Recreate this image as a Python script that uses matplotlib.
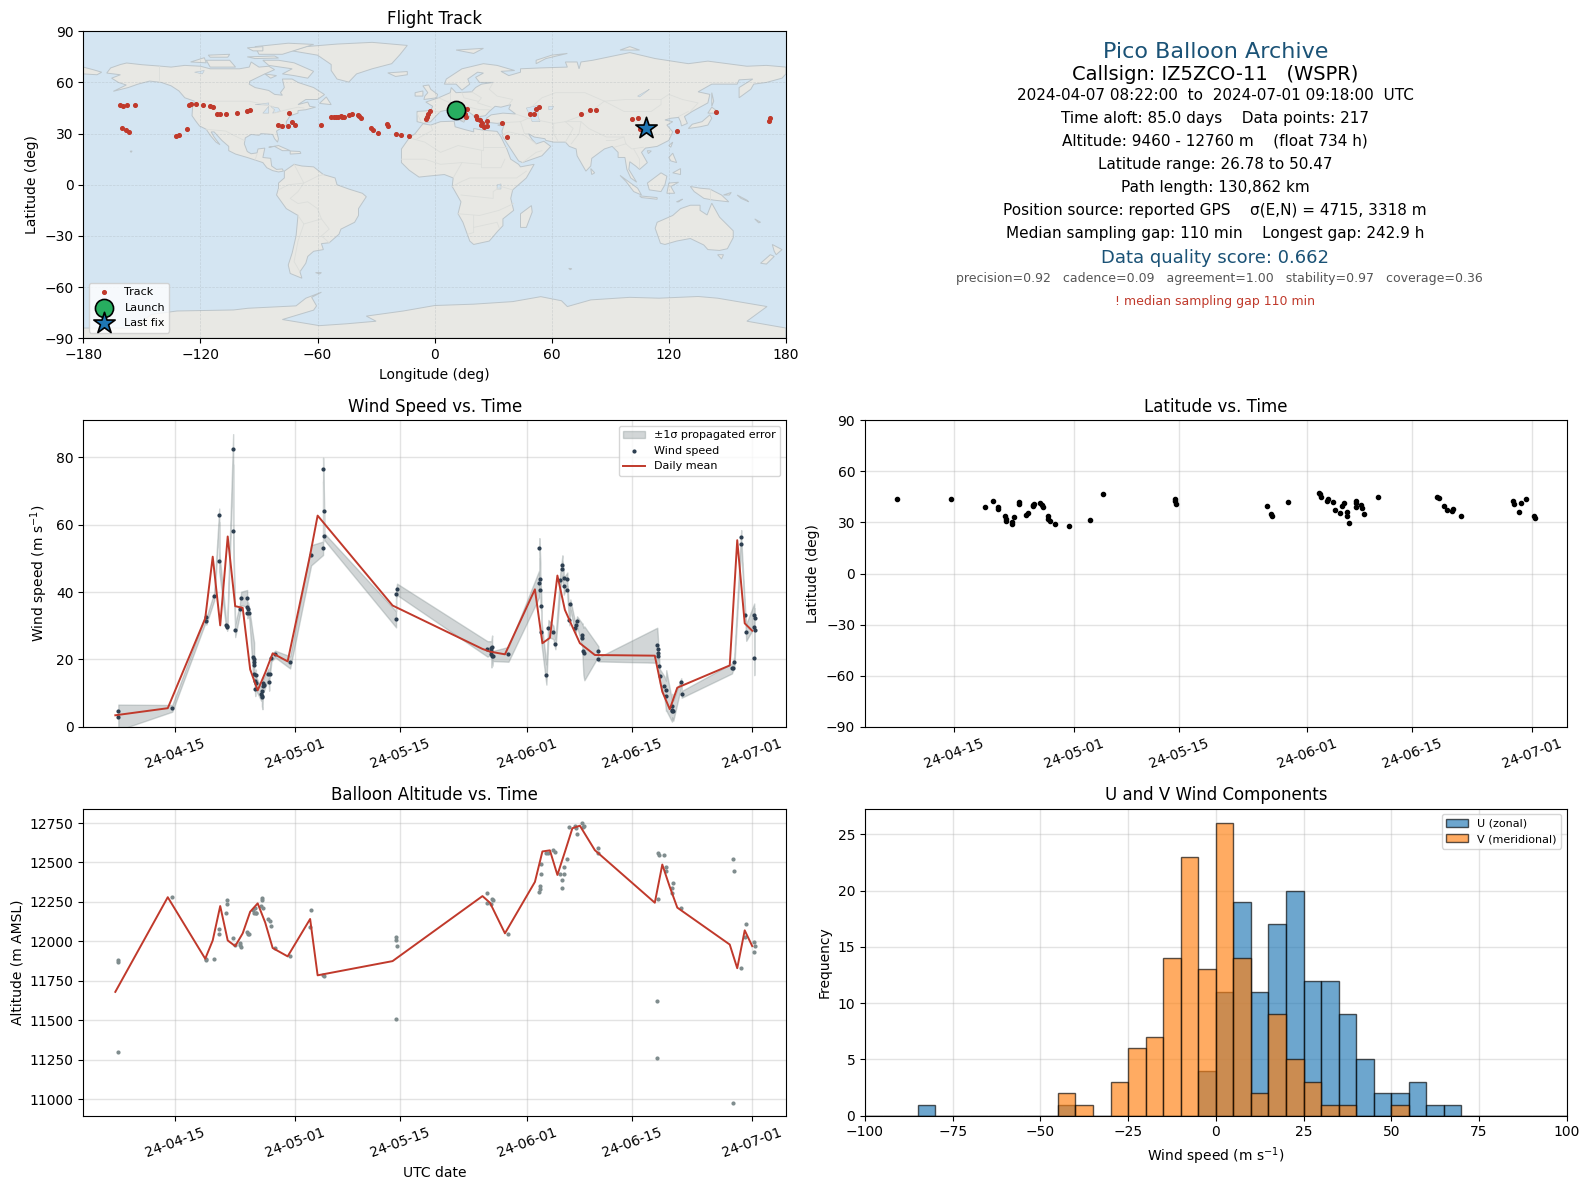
import matplotlib
matplotlib.use("Agg")
import matplotlib.pyplot as plt
import matplotlib.dates as mdates
from matplotlib.patches import Polygon
import numpy as np
import pandas as pd

# ---------- data (time = days since 2024-04-01 00:00 UTC) ----------
wind_t = [6.4,6.4,13.6,18.13,18.13,19.2,19.87,19.87,20.8,20.89,20.93,21.73,21.73,22.0,22.62,22.8,23.6,23.6,23.73,23.64,23.87,
          24.4,24.53,24.53,24.53,24.53,24.76,24.62,24.76,24.67,25.56,25.47,25.56,25.64,25.73,25.78,25.69,26.44,26.58,26.53,26.84,27.33,29.33,32.13,33.73,33.73,33.87,33.87,43.47,43.47,43.6,
          55.67,56.16,56.2,56.29,56.2,56.29,56.38,58.47,62.6,62.6,62.73,62.73,62.87,62.87,63.53,63.8,64.47,64.73,65.4,65.67,65.67,65.84,65.84,66.33,66.33,66.73,66.6,67.62,67.53,67.4,68.33,68.33,68.47,68.6,70.47,70.47,
          78.33,78.42,78.47,78.47,78.6,78.64,79.27,79.53,79.49,80.33,80.33,80.47,80.29,81.53,81.58,88.38,88.6,88.29,89.53,89.53,90.07,90.2,91.27,91.31,91.27,91.31,91.27]
wind_v = [4.55,2.77,5.45,32.5,31.3,38.7,62.8,49.1,30.1,29.9,29.5,82.4,58.0,28.6,34.9,38.1,38.1,35.6,34.9,33.7,33.7,
          20.8,20.0,19.3,18.2,15.8,15.5,13.7,12.9,11.1,10.7,9.7,9.1,8.7,12.9,12.3,12.0,15.8,15.8,13.2,20.4,21.6,19.1,50.9,53.0,76.4,64.0,56.5,31.9,39.3,40.8,
          23.1,23.4,22.6,23.6,21.6,21.0,21.0,21.5,42.6,53.0,43.8,40.5,36.0,28.0,15.5,29.2,28.0,24.5,43.6,47.9,46.7,44.1,41.7,43.8,40.5,36.3,31.6,31.3,30.1,29.2,27.1,26.2,22.4,21.8,22.4,20.0,
          24.2,23.1,21.8,21.1,17.9,15.2,12.0,10.8,9.2,6.3,5.1,4.8,4.7,13.2,9.6,17.4,19.1,17.3,56.2,54.2,33.1,28.0,33.1,32.2,29.5,28.7,20.3]
wind_sigma = [2.0,3.8,1.0,1.0,1.0,1.2,2.0,3.0,1.0,1.0,1.0,4.5,2.0,2.0,1.5,2.0,2.5,2.0,2.0,1.5,1.5,
              6.0,5.0,4.0,3.0,2.0,1.5,2.0,2.0,2.0,2.0,2.0,3.0,3.5,2.0,2.0,2.0,1.5,1.5,2.5,1.0,1.0,1.8,3.0,2.0,3.5,2.0,1.0,2.4,1.2,1.7,
              2.3,2.0,3.0,3.5,4.0,3.0,1.5,2.2,4.0,3.0,5.0,4.5,2.0,3.5,3.0,2.5,2.0,1.5,2.5,3.0,3.0,2.5,2.5,2.0,2.0,1.5,1.5,1.5,1.5,1.5,3.5,4.5,7.0,8.0,1.5,0.6,
              5.2,3.0,2.5,2.0,2.0,2.0,3.0,6.0,4.5,3.5,3.0,3.0,3.2,1.2,1.0,1.0,1.8,1.5,2.2,2.0,1.0,2.5,3.5,3.0,2.0,3.0,5.0]
wind_mean_day = [6,13,18,19,20,21,22,23,24,25,26,27,29,32,33,43,55,56,58,62,63,64,65,66,67,68,70,78,79,80,81,88,89,90,91]
wind_mean = [3.4,5.5,32.2,50.5,30.1,56.5,35.8,35.3,17.0,10.8,16.0,21.8,19.4,51.0,62.7,36.0,23.1,22.3,21.5,40.8,24.8,26.4,44.9,34.7,29.7,24.8,21.3,21.1,10.4,5.2,11.6,18.2,55.4,30.7,28.5]

alt_t = [6.4,6.4,6.4,13.6,18.13,18.13,19.2,19.87,19.87,20.8,20.93,20.93,21.73,22.0,22.62,22.67,22.8,23.6,23.69,23.82,24.4,24.49,24.67,24.71,24.84,25.47,25.6,25.64,25.73,26.44,26.58,26.8,27.33,29.33,32.13,32.0,33.73,33.87,43.47,43.47,43.6,43.47,
         55.67,55.67,56.2,56.29,56.38,58.47,62.6,62.73,62.73,62.87,62.87,63.53,63.8,64.47,64.73,65.4,65.67,65.67,65.84,65.84,66.33,66.6,67.4,67.53,67.67,68.33,68.47,68.6,70.47,70.47,78.33,78.33,78.47,78.56,78.47,79.27,79.53,79.49,80.33,80.33,80.47,81.53,88.38,88.47,88.6,89.53,90.07,90.2,91.27,91.31,91.27]
alt_v = [11880,11871,11296,12279,11890,11880,11886,12076,12044,12177,12260,12235,12019,11975,11987,11975,11966,12057,12049,12044,12201,12177,12213,12177,12182,12224,12277,12260,12213,12139,12127,12095,11956,11905,12197,12089,11787,11778,12027,12008,11968,11506,
         12304,12245,12235,12266,12260,12044,12311,12353,12330,12425,12488,12558,12558,12577,12564,12425,12336,12387,12425,12469,12524,12727,12733,12716,12678,12748,12725,12729,12590,12558,11620,11258,12560,12547,12266,12545,12469,12446,12336,12304,12368,12213,10979,12520,12444,11829,12027,12108,11998,11973,11934]
alt_mean = [11680,12280,11890,12006,12224,12006,11970,12051,12188,12241,12120,11958,11905,12142,11785,11875,12287,12245,12051,12377,12570,12577,12421,12567,12717,12733,12578,12245,12487,12345,12214,11980,11830,12070,11970]

lat_t = [6.4,13.58,18.16,19.17,19.82,19.88,20.77,20.89,20.95,21.96,21.72,21.72,22.67,22.67,23.62,23.8,24.45,24.69,24.51,25.4,25.64,25.82,26.47,26.53,26.71,27.42,29.26,32.05,33.83,43.45,43.45,43.51,
         55.63,56.28,56.34,58.54,62.63,62.75,62.93,63.64,63.82,64.47,64.77,65.42,65.72,65.9,66.38,66.38,66.61,67.5,67.56,67.56,68.22,68.39,68.63,70.41,78.37,78.55,79.26,79.62,80.45,80.33,81.52,88.47,88.59,89.24,89.53,90.13,91.31,91.37]
lat_v = [43.7,43.5,38.8,42.4,39.2,38.0,33.5,32.2,30.8,33.1,30.0,29.2,42.0,41.0,34.5,35.3,39.6,40.8,40.2,41.4,40.2,39.2,33.5,32.2,30.6,28.8,27.7,31.4,46.7,43.7,42.4,41.0,
         39.6,35.1,33.9,41.8,47.5,46.5,45.1,42.4,43.7,41.8,37.1,35.3,39.8,41.4,36.3,33.9,29.8,39.2,42.8,41.2,40.2,38.4,34.7,45.1,44.7,44.3,39.4,37.5,38.0,36.9,33.5,42.8,40.6,35.9,41.2,43.9,33.7,32.6]

track_lon = [-161.4,-159.5,-157.7,-153.4,-160,-158.1,-156.7,-132.3,-130.9,-126.9,-125.9,-124.8,-122.2,-118.6,-115.3,-113.7,-111.6,-109.9,-106.9,-101.2,-96.1,-94.4,-80.1,-78,-75.1,-74.4,-73,-71.6,-58.2,-53,-51.6,-50.5,-49.3,-48.1,-47.6,-46.5,-43.9,-42.5,-39.4,-38.5,-37.5,-32.6,-31.6,-28.8,-24.6,-23.9,-19.7,-17.3,-13.1,-4.6,-3.9,-3.4,-2.5,16.8,15.4,16.3,21,21.7,23.4,24.1,26.9,26.9,25.5,23.6,34.4,37,49,50.9,52,53.5,74.8,79.6,82.6,100.9,104.2,105.2,124,144.2,171.5,171.7]
track_lat = [46.6,46.0,46.6,46.6,33.1,32.2,30.8,28.8,29.4,32.6,46.8,47.2,47.2,46.6,46.0,45.4,41.3,41.3,41.3,41.9,43.1,43.7,34.9,34.3,34.3,41.9,36.7,34.9,34.9,39.6,39.6,39.6,40,40.6,39.6,39.6,40.8,41.3,40.8,40.2,39.2,33.1,32,30.2,35.5,34.3,29.6,29,28.4,38.4,40,41.3,43.1,44.3,41.3,39.6,40.2,38.8,37.8,36.1,37.6,34.5,33.7,34.9,36.1,27.9,41.3,41.3,44.3,45.4,41.3,43.7,43.7,38.4,39,32.6,31.4,42.5,37.6,39]
launch_pos = (11.1, 43.7)
last_pos = (108.2, 33.5)

bin_edges = list(range(-100, 105, 5))
u_left = [-85,-45,-5,0,5,10,15,20,25,30,35,40,45,50,55,60,65]
u_count = [1,1,4,11,19,11,17,20,12,12,9,5,2,2,3,1,1]
v_left = [-45,-40,-30,-25,-20,-15,-10,-5,0,5,10,15,20,25,30,35,50]
v_count = [2,1,3,6,7,14,23,13,26,14,2,9,5,3,1,1,1]

date_ticks = ["2024-04-15","2024-05-01","2024-05-15","2024-06-01","2024-06-15","2024-07-01"]

land = {
 "north_america": [(-168,65.5),(-166,68.5),(-161,70.5),(-157.8,71.4),(-150,70.4),(-141,69.6),(-135,69),(-128,70),(-120,69.5),(-115,68),(-108,68),(-100,68),(-95,69),(-94,72),(-90,69),(-85,69.5),(-82,67.5),(-87,65),(-94.7,60.7),(-95,59),(-92,57),(-85,55.3),(-82,53),(-78,52.5),(-79,54),(-77,57),(-78,62),(-73,62),(-70,60),(-66,58.5),(-62,57),(-56.4,52.9),(-60,50),(-66,50),(-70,47),(-65,48.5),(-64,46),(-61,45.5),(-66,44),(-70,43.5),(-70,42),(-74,40.5),(-76,37),(-76,35),(-81,31.5),(-80,27),(-80.5,25),(-82,27),(-83,29.5),(-85,29.7),(-89,30),(-90,29),(-94,29.5),(-97,27.5),(-97.5,24),(-96,19.5),(-94,18.2),(-91,18.7),(-90.5,21),(-87,21.5),(-88,16),(-84,15.5),(-83.5,11),(-81,9),(-78,9.3),(-77.5,8),(-80,7.5),(-83,8.3),(-86,10),(-88,13),(-92,14.5),(-96,16),(-102,18),(-105.5,20),(-105.5,22.5),(-109,26),(-113,31),(-114.5,31),(-113,28),(-110,23.5),(-112,25),(-115,29),(-117,32.5),(-120.5,34.5),(-122.5,37.5),(-124.3,40.5),(-124,46),(-123,49),(-128,51),(-131,55),(-135,58),(-140,60),(-146,60.8),(-152,59),(-157,57),(-164.6,54.8),(-158,58.5),(-162,60),(-165.5,62.5),(-161,64.5)],
 "greenland": [(-73,78.5),(-66,81),(-50,82.5),(-32,83.5),(-14,81.7),(-18,76),(-22,71),(-32,68),(-40,65),(-44,60.2),(-50,62),(-53,67),(-53,70.5),(-60,76)],
 "baffin": [(-80,73),(-72,71.5),(-62,66.5),(-65,62.5),(-72,64),(-78,65),(-73,68),(-85,70),(-88,73)],
 "victoria": [(-117,73),(-105,73),(-102,69),(-115,69)],
 "ellesmere": [(-90,76.5),(-78,76.5),(-62,82.3),(-75,83),(-92,81)],
 "banks": [(-125,72),(-118,74.5),(-117,71.5)],
 "devon": [(-96,75),(-82,75.5),(-80,74.3),(-92,74)],
 "melville": [(-116,76),(-105,76.5),(-106,74.8),(-115,74.8)],
 "axel_heiberg": [(-96,80.3),(-88,81),(-88,78.5),(-93,78.5)],
 "southampton": [(-87,65),(-81,64),(-84,62.5)],
 "newfoundland": [(-59,47.7),(-53,47),(-55.5,51.5)],
 "cuba": [(-85,22),(-80,23),(-74,20),(-78,20),(-82,22.5)],
 "hispaniola": [(-74,19.8),(-69,19.5),(-68.5,18.4),(-74,18)],
 "hawaii": [(-156,19.7),(-155,19.8),(-155.5,19)],
 "south_america": [(-77,8),(-72,12),(-68,11),(-62,10.5),(-57,6),(-51,4),(-50,0),(-44,-2.5),(-37,-5),(-35,-7),(-39,-14),(-39,-18),(-41,-22),(-48,-26),(-49,-29),(-54,-34),(-58,-34.5),(-57,-38),(-62,-39),(-65,-42),(-66,-46),(-69,-51),(-68,-54.8),(-74,-52),(-75,-47),(-73,-40),(-71,-30),(-70,-18),(-76,-14),(-81,-6),(-80,-2),(-80,1),(-77,4)],
 "africa": [(-6,35.8),(-2,35),(3,37),(10,37.3),(10.5,34),(15,32.5),(20,31),(20,33),(25,32),(32,31.3),(34,28),(37,21),(39,15),(43,12),(44,10.5),(51,12),(47,4),(40,-3),(39,-8),(40.5,-15),(35,-20),(35,-24),(32.5,-27),(28,-33),(20,-35),(18,-33),(14.5,-22),(12,-17),(13.5,-10),(9,-1),(9.5,4),(5,6),(-4,5),(-8,4.5),(-13,8.5),(-17,13),(-17,21),(-13,27.5),(-10,30)],
 "eurasia": [(-9,37),(-9,43),(-2,43.5),(-1,46),(-4.5,48.5),(2,51),(8,54),(8.5,57),(11,54),(19,54.5),(21,57),(24,59),(30,60),(23,60),(21,63),(25,65.5),(22,66),(17,62),(18,59),(14,55.5),(11,59),(5,59),(6,62),(14,68),(25,71),(32,70),(41,67),(34,66.5),(38,64),(44,66),(44,68),(54,68.5),(68,69),(67,72),(73,72),(74,68),(75,72),(81,73),(100,77.5),(113,74),(130,71),(140,72.5),(160,69.5),(170,70),(180,69),(180,65),(178,62.5),(170,60),(163.5,59),(162,56),(156,51),(156,57),(163,62),(156,61.5),(155,59),(142,59),(135,54.5),(141,53),(140,48),(132,43),(128,40),(129.5,36),(126.5,34.5),(126,37),(125,39.5),(121,39),(118,38),(122,37),(119,35),(122,31),(120,26),(114,22.5),(108,21.5),(106,19),(109,13),(105,9),(103,11),(100,13.5),(99.5,9),(103.5,1.5),(100.5,4),(98.5,9),(97.5,16),(94,16),(94,19),(91,22.5),(87,21),(80.5,15.5),(80,11),(77.5,8),(73,17),(72.5,21),(69,22.5),(67,25),(61,25),(57,26),(56.5,27),(51,28),(48,30),(50,26.5),(52,24),(56,25.5),(59.5,22.5),(55,17),(45,13),(43,14),(39,21),(35,28),(34.5,31.5),(36,36.5),(32,36),(28,36.5),(26.5,39),(29,41),(35,42),(41.5,41.5),(38,44.5),(39,47),(34,45.5),(31,46),(28,43),(26,40.5),(23,40),(24,38),(22.5,36.7),(19.5,41),(14,45.5),(12.5,44),(18,40),(16,38),(12,42),(8.5,44.3),(3,43),(0,39.5),(-2,37),(-5.5,36)],
 "chukotka": [(-180,69),(-175,67.5),(-170.6,66),(-173,64.5),(-180,65)],
 "uk": [(-5.5,50),(1,51),(1.5,53),(-2,56),(-3,58.5),(-6,58),(-3.5,54),(-5,52)],
 "ireland": [(-10,52),(-6,52),(-6,55),(-10,54)],
 "iceland": [(-24,65.6),(-14,66.4),(-14,64.5),(-20,63.5)],
 "svalbard": [(11,79),(25,80),(20,77)],
 "novaya": [(52,71),(57,74),(68,77),(60,76),(52,73)],
 "severnaya": [(95,79),(105,79),(100,81)],
 "sakhalin": [(142,54),(143,49),(142,46),(142,50)],
 "honshu": [(130,33),(132,35.5),(137,37),(141,41),(142,39),(140,35),(136,34)],
 "hokkaido": [(140,42),(142,45.5),(145,43),(143,42)],
 "taiwan": [(120,23),(122,25),(121,22)],
 "luzon": [(120,16),(122,18.5),(124,13),(121,14)],
 "mindanao": [(122,7),(126,9.5),(126,6)],
 "borneo": [(109,1),(116,7),(119,5),(118,0),(116,-4),(110,-3)],
 "sumatra": [(95,5.5),(104,-2),(106,-6),(102,-4),(98,2)],
 "java": [(105,-6.5),(114,-7.5),(114,-8.5),(106,-7.5)],
 "sulawesi": [(119,-5),(120,1),(125,1.5),(121,-1),(123,-5)],
 "new_guinea": [(131,-1),(136,-2),(141,-2.5),(147,-6),(150.7,-10),(143,-9),(138,-8),(133,-4)],
 "australia": [(114,-22),(122,-18),(126,-14),(131,-12),(136,-12),(136,-15),(139.6,-17.7),(142,-10.8),(146,-19),(153,-27),(153,-31),(150,-37.5),(146,-38.5),(140,-38),(137.9,-35.3),(131,-31.5),(124,-33),(118,-35),(115.7,-34.3),(113,-25.5)],
 "tasmania": [(145,-41),(148,-41),(147,-43.5)],
 "nz_north": [(173,-35),(178,-38),(175,-41),(174,-39)],
 "nz_south": [(172,-41),(174,-42),(170,-46.5),(167,-46)],
 "madagascar": [(49.6,-12.2),(50,-16),(47,-25),(44,-25),(44,-17)],
 "sri_lanka": [(80,9.5),(82,7),(80.5,6)],
 "hainan": [(109,20),(111,19.8),(109.5,18.3)],
 "sicily": [(12.5,38),(15.5,38),(15,36.7)],
 "sardinia": [(8.3,41),(9.7,41),(9.5,39),(8.5,39)],
 "crete": [(23.5,35.5),(26.3,35.2),(24.5,34.9)],
 "cyprus": [(32.3,35),(34.5,35.6),(33.5,34.6)],
 "falklands": [(-61,-51.5),(-58,-51.5),(-59,-52.3)],
 "kerguelen": [(68.7,-49),(70.3,-49.2),(69.5,-49.8)],
 "new_britain": [(148,-6),(152,-4.5),(151,-6)],
 "solomon": [(155,-6),(160,-9),(161,-10),(157,-8)],
 "new_caledonia": [(164,-20),(167,-22),(166,-22.3)],
 "timor": [(124,-10),(127,-8.4),(125,-10)],
 "antarctica": [(-180,-84),(-155,-84),(-145,-76),(-132,-74),(-103,-73.4),(-95.6,-72.4),(-78,-71.4),(-71,-71),(-66,-66.5),(-58,-63),(-63,-66),(-60.5,-71),(-62,-73.5),(-78,-79),(-59,-82.6),(-45,-81.5),(-30,-80),(-35,-77),(-16,-74),(0,-70.8),(20,-70),(40,-68.5),(54.4,-65.6),(65,-68),(68,-71.4),(80,-67.5),(100,-66),(115,-66.5),(135,-65.5),(145,-66.5),(170.3,-71.4),(160,-80),(180,-84),(180,-90),(-180,-90)],
}
inland_water = {
 "caspian": [(47,45),(53,46.5),(53,40),(54,37),(50,37),(49,40)],
 "great_bear": [(-123,66),(-118,67),(-119,65)],
 "superior": [(-92,47),(-85,48),(-85,46.7)],
 "michigan": [(-88,42),(-85,46),(-85,42)],
 "huron_erie": [(-84,46),(-80,45),(-79,43),(-83,42),(-82,44)],
 "victoria_lake": [(32,0),(34,0.5),(34,-2.5),(32,-2.5)],
 "baikal": [(104,52),(110,56),(109,55),(105,51.5)],
 "aral": [(58.5,46),(61,46),(60,44),(58.5,44)],
}
borders = [
 [(-141,69.6),(-141,60)],[(-123,49),(-95,49),(-83,46),(-82,42),(-76,44),(-70,45.5),(-67,45)],
 [(-117,32.5),(-107,31.5),(-103,29),(-97.5,26)],[(-92,14.5),(-91,18)],
 [(-72,12),(-67,1),(-70,-4),(-74,-8),(-70,-11),(-65,-10),(-60,-14),(-58,-20),(-54,-26),(-58,-30),(-54,-34)],
 [(-80,-3),(-75,0),(-67,1),(-60,5),(-57,6)],[(-70,-18),(-67,-23),(-70,-33),(-72,-45),(-69,-51)],[(-67,-23),(-58,-20)],
 [(-9,27),(-1,32),(-2,35)],[(-13,27.5),(-5,25),(3,19),(12,23),(25,20),(25,32)],[(25,22),(37,22)],[(24,20),(24,10),(34,10),(36,15)],
 [(-17,15),(-5,15),(3,12),(14,13),(24,12)],[(9.5,4),(14,13)],[(9,-1),(14,2),(18,4),(30,4),(34,4),(42,4),(47,8)],[(13.5,-6),(30,-8),(30,-4),(34,-1),(40,-3)],
 [(12,-17),(23,-18),(33,-15),(40.5,-11)],[(20,-18),(20,-28),(17,-29)],[(20,-25),(32,-22),(33,-25)],
 [(30,60),(28,56),(32,52),(40,50),(38,47)],[(19,54.5),(24,51),(22,48),(29,45.5)],[(8,48),(8,54)],[(2,51),(8,48),(7,44)],[(-2,43.5),(3,42.5)],[(-9,42),(-7,37)],[(14,54),(15,51),(22,49)],[(8,48),(14,47),(16,46),(23,44),(28,44)],
 [(41.5,41.5),(48,39),(44,37),(36,36.5)],[(44,37),(46,30),(48,30)],[(34.5,29.5),(38,31),(46,29),(52,24)],[(45,13),(52,19),(55,20)],[(48,39),(61,36),(67,37),(75,37),(79,33),(88,28),(97,28),(98,24),(101,21),(107,22)],[(61,36),(61,30),(63,26)],[(67,37),(71,33),(67,25)],[(75,37),(74,30),(70,24)],
 [(50,46),(55,51),(62,54),(77,54),(87,49),(98,50),(107,50),(116,50),(120,53),(127,50),(135,48),(131,43)],[(87,49),(80,43),(74,40),(67,37)],[(87,49),(97,43),(111,43),(116,47),(116,50)],[(98,24),(92,22)],[(97,28),(92,26),(88,26)],[(102,21),(105,15),(105,10)],
 [(125,40),(130,43)],[(141,-2.5),(141,-9)],
]

# ---------- colours ----------
OCEAN = "#d4e5f2"; LAND = "#e8e8e4"; COAST = "#bcc5ca"; BORDER = "#dcdedb"
RED = "#c0392b"; DARK = "#2c3e50"; GRAY = "#7f8c8d"; NAVY = "#1a5276"

def dates(days):
    return pd.Timestamp("2024-04-01") + pd.to_timedelta(np.asarray(days, float), unit="D")

fig = plt.figure(figsize=(15.9, 11.89), dpi=100)
L1, R1, L2, R2 = 0.0524, 0.4943, 0.5440, 0.9853
rows = [(0.7155, 0.9737), (0.3888, 0.6465), (0.0616, 0.3200)]
def make_ax(col, row):
    l, r = (L1, R1) if col == 0 else (L2, R2)
    b, t = rows[row]
    return fig.add_axes([l, b, r - l, t - b])

def fmt_time(ax, lo, hi):
    lims = dates([lo, hi])
    ax.set_xlim(lims[0], lims[1])
    ax.set_xticks(pd.to_datetime(date_ticks))
    ax.xaxis.set_major_formatter(mdates.DateFormatter("%y-%m-%d"))
    ax.tick_params(axis="x", rotation=20)
    ax.grid(True, color="#b0b0b0", alpha=0.35, lw=1)
    ax.set_axisbelow(True)

# ---------- map ----------
ax = make_ax(0, 0)
ax.set_facecolor(OCEAN)
for name, pts in land.items():
    ax.add_patch(Polygon(pts, closed=True, fc=LAND, ec=COAST, lw=0.7, zorder=1))
for name, pts in inland_water.items():
    ax.add_patch(Polygon(pts, closed=True, fc=OCEAN, ec=COAST, lw=0.4, zorder=1.1))
for line in borders:
    xs, ys = zip(*line)
    ax.plot(xs, ys, color=BORDER, lw=0.6, zorder=1.2)
ax.grid(True, color="#a0a8ad", alpha=0.35, lw=0.5, ls="--")
ax.set_axisbelow("line")
ax.scatter(track_lon, track_lat, s=7, color=RED, zorder=3, label="Track")
ax.scatter(*launch_pos, s=170, color="#27ae60", edgecolor="black", lw=1.2, zorder=4, label="Launch")
ax.scatter(*last_pos, s=260, marker="*", color="#1f77b4", edgecolor="black", lw=1.2, zorder=5, label="Last fix")
ax.set_xlim(-180, 180); ax.set_ylim(-90, 90)
ax.set_xticks(range(-180, 181, 60)); ax.set_yticks(range(-90, 91, 30))
ax.set_xlabel("Longitude (deg)"); ax.set_ylabel("Latitude (deg)")
ax.set_title("Flight Track", pad=5)
ax.legend(loc="lower left", fontsize=8)

# ---------- info panel ----------
info = [
 ("Pico Balloon Archive", 16, NAVY, 0.9564, 0.7644),
 ("Callsign: IZ5ZCO-11   (WSPR)", 14, "black", 0.9376, 0.7642),
 ("2024-04-07 08:22:00  to  2024-07-01 09:18:00  UTC", 11, "black", 0.9196, 0.7645),
 ("Time aloft: 85.0 days    Data points: 217", 11, "black", 0.9000, 0.7642),
 ("Altitude: 9460 - 12760 m    (float 734 h)", 11, "black", 0.8812, 0.7642),
 ("Latitude range: 26.78 to 50.47", 11, "black", 0.8615, 0.7642),
 ("Path length: 130,862 km", 11, "black", 0.8426, 0.7645),
 ("Position source: reported GPS    σ(E,N) = 4715, 3318 m", 11, "black", 0.8230, 0.7640),
 ("Median sampling gap: 110 min    Longest gap: 242.9 h", 11, "black", 0.8033, 0.7640),
 ("Data quality score: 0.662", 13, NAVY, 0.7827, 0.7640),
 ("precision=0.92   cadence=0.09   agreement=1.00   stability=0.97   coverage=0.36", 9, "#555555", 0.7656, 0.7672),
 ("! median sampling gap 110 min", 9, RED, 0.7465, 0.7640),
]
for txt, size, col, y, x in info:
    fig.text(x, y, txt, fontsize=size, color=col, ha="center", va="center")

# ---------- wind speed ----------
ax = make_ax(0, 1)
order = np.argsort(wind_t, kind="stable")
t_sorted = np.asarray(wind_t)[order]; v_sorted = np.asarray(wind_v)[order]; s_sorted = np.asarray(wind_sigma)[order]
ax.fill_between(dates(t_sorted), v_sorted - s_sorted, v_sorted + s_sorted, color=GRAY, alpha=0.35, label="±1σ propagated error")
ax.scatter(dates(wind_t), wind_v, s=4, color=DARK, zorder=3, label="Wind speed")
ax.plot(dates(wind_mean_day), wind_mean, color=RED, lw=1.4, zorder=4, label="Daily mean")
fmt_time(ax, 1.73, 95.5)
ax.set_ylim(0, 91)
ax.set_ylabel(r"Wind speed (m s$^{-1}$)")
ax.set_title("Wind Speed vs. Time")
ax.legend(loc="upper right", fontsize=8)

# ---------- latitude ----------
ax = make_ax(1, 1)
ax.scatter(dates(lat_t), lat_v, s=9, color="black", zorder=3)
fmt_time(ax, 2.12, 95.6)
ax.set_ylim(-90, 90); ax.set_yticks(range(-90, 91, 30))
ax.set_ylabel("Latitude (deg)")
ax.set_title("Latitude vs. Time")

# ---------- altitude ----------
ax = make_ax(0, 2)
ax.scatter(dates(alt_t), alt_v, s=4, color=GRAY, zorder=3)
ax.plot(dates(wind_mean_day), alt_mean, color=RED, lw=1.4, zorder=4)
fmt_time(ax, 1.73, 95.5)
ax.set_ylim(10895, 12842)
ax.set_yticks(range(11000, 12751, 250))
ax.set_xlabel("UTC date"); ax.set_ylabel("Altitude (m AMSL)")
ax.set_title("Balloon Altitude vs. Time")

# ---------- histogram ----------
ax = make_ax(1, 2)
ax.hist(u_left, bins=bin_edges, weights=u_count, color="#1f77b4", alpha=0.65, edgecolor="black", label="U (zonal)")
ax.hist(v_left, bins=bin_edges, weights=v_count, color="#ff7f0e", alpha=0.65, edgecolor="black", label="V (meridional)")
ax.set_xlim(-100, 100); ax.set_ylim(0, 27.3)
ax.set_xticks(range(-100, 101, 25)); ax.set_yticks(range(0, 26, 5))
ax.grid(True, color="#b0b0b0", alpha=0.35, lw=1); ax.set_axisbelow(True)
ax.set_xlabel(r"Wind speed (m s$^{-1}$)"); ax.set_ylabel("Frequency")
ax.set_title("U and V Wind Components")
ax.legend(loc="upper right", fontsize=8)

fig.savefig("out.png", dpi=100)
